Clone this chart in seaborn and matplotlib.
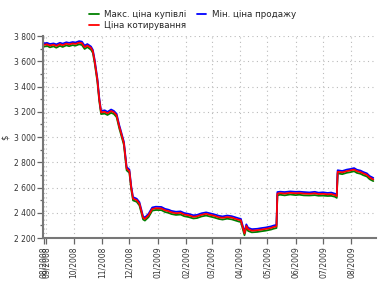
import matplotlib
matplotlib.use("Agg")
import matplotlib.pyplot as plt
from matplotlib.ticker import MultipleLocator
import pandas as pd
import seaborn as sns

dates = ["2008-08-29","2008-09-02","2008-09-05","2008-09-09","2008-09-12","2008-09-16","2008-09-19","2008-09-23","2008-09-26","2008-09-30",
         "2008-10-03","2008-10-07","2008-10-10","2008-10-13","2008-10-16","2008-10-20","2008-10-22","2008-10-24","2008-10-27","2008-10-29",
         "2008-10-31","2008-11-04","2008-11-07","2008-11-11","2008-11-14","2008-11-17","2008-11-20","2008-11-21","2008-11-25","2008-11-28",
         "2008-12-01","2008-12-03","2008-12-05","2008-12-09","2008-12-12","2008-12-16","2008-12-18","2008-12-22","2008-12-26","2008-12-30",
         "2009-01-05","2009-01-09","2009-01-13","2009-01-16","2009-01-21","2009-01-26","2009-01-30","2009-02-04","2009-02-09","2009-02-13",
         "2009-02-18","2009-02-23","2009-02-27","2009-03-04","2009-03-09","2009-03-13","2009-03-18","2009-03-23","2009-03-27","2009-03-31",
         "2009-04-02","2009-04-06","2009-04-08","2009-04-10","2009-04-14","2009-04-20","2009-04-24","2009-04-29","2009-05-05","2009-05-08",
         "2009-05-11","2009-05-12","2009-05-15","2009-05-20","2009-05-26","2009-06-01","2009-06-05","2009-06-10","2009-06-16","2009-06-22",
         "2009-06-26","2009-07-01","2009-07-06","2009-07-10","2009-07-14","2009-07-16","2009-07-17","2009-07-22","2009-07-27","2009-07-31",
         "2009-08-04","2009-08-07","2009-08-11","2009-08-14","2009-08-18","2009-08-21","2009-08-25"]

quote = [3730,3735,3725,3732,3722,3736,3728,3740,3734,3742,
         3738,3748,3744,3712,3726,3706,3680,3600,3450,3300,
         3195,3200,3188,3206,3196,3172,3080,3056,2950,2750,
         2730,2600,2512,2500,2472,2360,2352,2380,2430,2436,
         2434,2420,2412,2404,2396,2400,2386,2380,2368,2372,
         2384,2392,2384,2376,2364,2360,2366,2362,2352,2344,
         2340,2236,2296,2270,2258,2262,2266,2272,2280,2288,
         2292,2552,2556,2552,2558,2554,2556,2552,2550,2554,
         2548,2550,2546,2548,2540,2532,2725,2720,2730,2736,
         2742,2730,2722,2712,2700,2680,2664]

sell_min = [3742,3746,3737,3742,3734,3747,3740,3751,3746,3753,
            3749,3760,3756,3724,3737,3717,3691,3612,3462,3312,
            3206,3212,3199,3218,3207,3184,3092,3067,2962,2762,
            2742,2612,2524,2511,2484,2372,2363,2392,2442,2448,
            2446,2431,2424,2415,2408,2411,2398,2391,2380,2383,
            2396,2403,2396,2387,2376,2371,2378,2373,2364,2355,
            2352,2247,2308,2281,2270,2273,2278,2283,2292,2299,
            2304,2564,2567,2564,2569,2566,2567,2564,2561,2566,
            2559,2562,2557,2560,2551,2544,2737,2731,2742,2747,
            2754,2741,2734,2723,2712,2691,2676]

buy_max = [3716,3722,3711,3719,3708,3723,3714,3727,3720,3729,
           3724,3735,3730,3698,3713,3692,3667,3586,3437,3287,
           3182,3186,3175,3192,3183,3158,3067,3042,2937,2736,
           2717,2586,2498,2487,2458,2347,2338,2366,2417,2422,
           2421,2406,2399,2390,2383,2386,2373,2366,2355,2358,
           2371,2378,2371,2362,2351,2346,2353,2348,2339,2330,
           2327,2222,2283,2256,2245,2248,2253,2258,2267,2274,
           2279,2538,2543,2538,2545,2540,2543,2538,2537,2540,
           2535,2536,2533,2534,2527,2518,2712,2706,2717,2722,
           2729,2716,2709,2698,2687,2666,2651]

series_names = ["Макс. ціна купівлі", "Мін. ціна продажу", "Ціна котирування"]
series_colors = ["#008000", "#0000ff", "#ff0000"]

x_tick_dates = ["2008-08-29","2008-09-01","2008-10-01","2008-11-01","2008-12-01","2009-01-01","2009-02-01",
                "2009-03-01","2009-04-01","2009-05-01","2009-06-01","2009-07-01","2009-08-01"]
x_tick_labels = ["08/2008","09/2008","10/2008","11/2008","12/2008","01/2009","02/2009",
                 "03/2009","04/2009","05/2009","06/2009","07/2009","08/2009"]
y_ticks = [2200, 2400, 2600, 2800, 3000, 3200, 3400, 3600, 3800]
y_tick_labels = ["2 200","2 400","2 600","2 800","3 000","3 200","3 400","3 600","3 800"]
y_label = "$"

sns.set_style("white")
plt.rcParams["font.family"] = ["DejaVu Sans"]

df = pd.DataFrame({"date": pd.to_datetime(dates),
                   series_names[0]: buy_max,
                   series_names[1]: sell_min,
                   series_names[2]: quote})

fig = plt.figure(figsize=(3.81, 2.82), dpi=100)
ax = fig.add_axes([0.113, 0.156, 0.874, 0.716])

handles = []
for name, col in zip(series_names, series_colors):
    sns.lineplot(data=df, x="date", y=name, ax=ax, color=col, linewidth=1.3, label=name, legend=False)
    handles.append(ax.lines[-1])

ax.set_xlim(pd.Timestamp("2008-08-28 12:00"), pd.Timestamp("2009-08-28"))
ax.set_ylim(2200, 3800)
ax.set_xticks(pd.to_datetime(x_tick_dates))
ax.set_xticklabels(x_tick_labels, rotation=90, fontsize=5.5, color="#333333")
ax.set_yticks(y_ticks)
ax.set_yticklabels(y_tick_labels, fontsize=5.5, color="#333333")
ax.yaxis.set_minor_locator(MultipleLocator(100))
ax.tick_params(axis="y", which="major", direction="out", length=4, width=0.9, color="#666666", pad=1.5, left=True)
ax.tick_params(axis="y", which="minor", direction="out", length=2.5, width=0.9, color="#666666", left=True)
ax.tick_params(axis="x", which="major", direction="out", length=4, width=0.9, color="#666666", pad=2, bottom=True)
ax.set_xlabel("")
ax.set_ylabel(y_label, fontsize=6, labelpad=3, color="#333333")

ax.grid(True, which="major", linestyle=(0, (1, 3)), color="#bbbbbb", linewidth=0.8)
for s in ["top", "right"]:
    ax.spines[s].set_visible(False)
for s in ["left", "bottom"]:
    ax.spines[s].set_color("#777777")
    ax.spines[s].set_linewidth(1.5)

order = [0, 2, 1]
fig.legend([handles[i] for i in order], [series_names[i] for i in order],
           loc="upper center", bbox_to_anchor=(0.505, 0.985), ncol=2, frameon=False,
           fontsize=6.3, handlelength=1.1, handletextpad=0.6, columnspacing=1.2,
           labelspacing=0.15, borderpad=0.2)

fig.savefig("out.png", dpi=100)
